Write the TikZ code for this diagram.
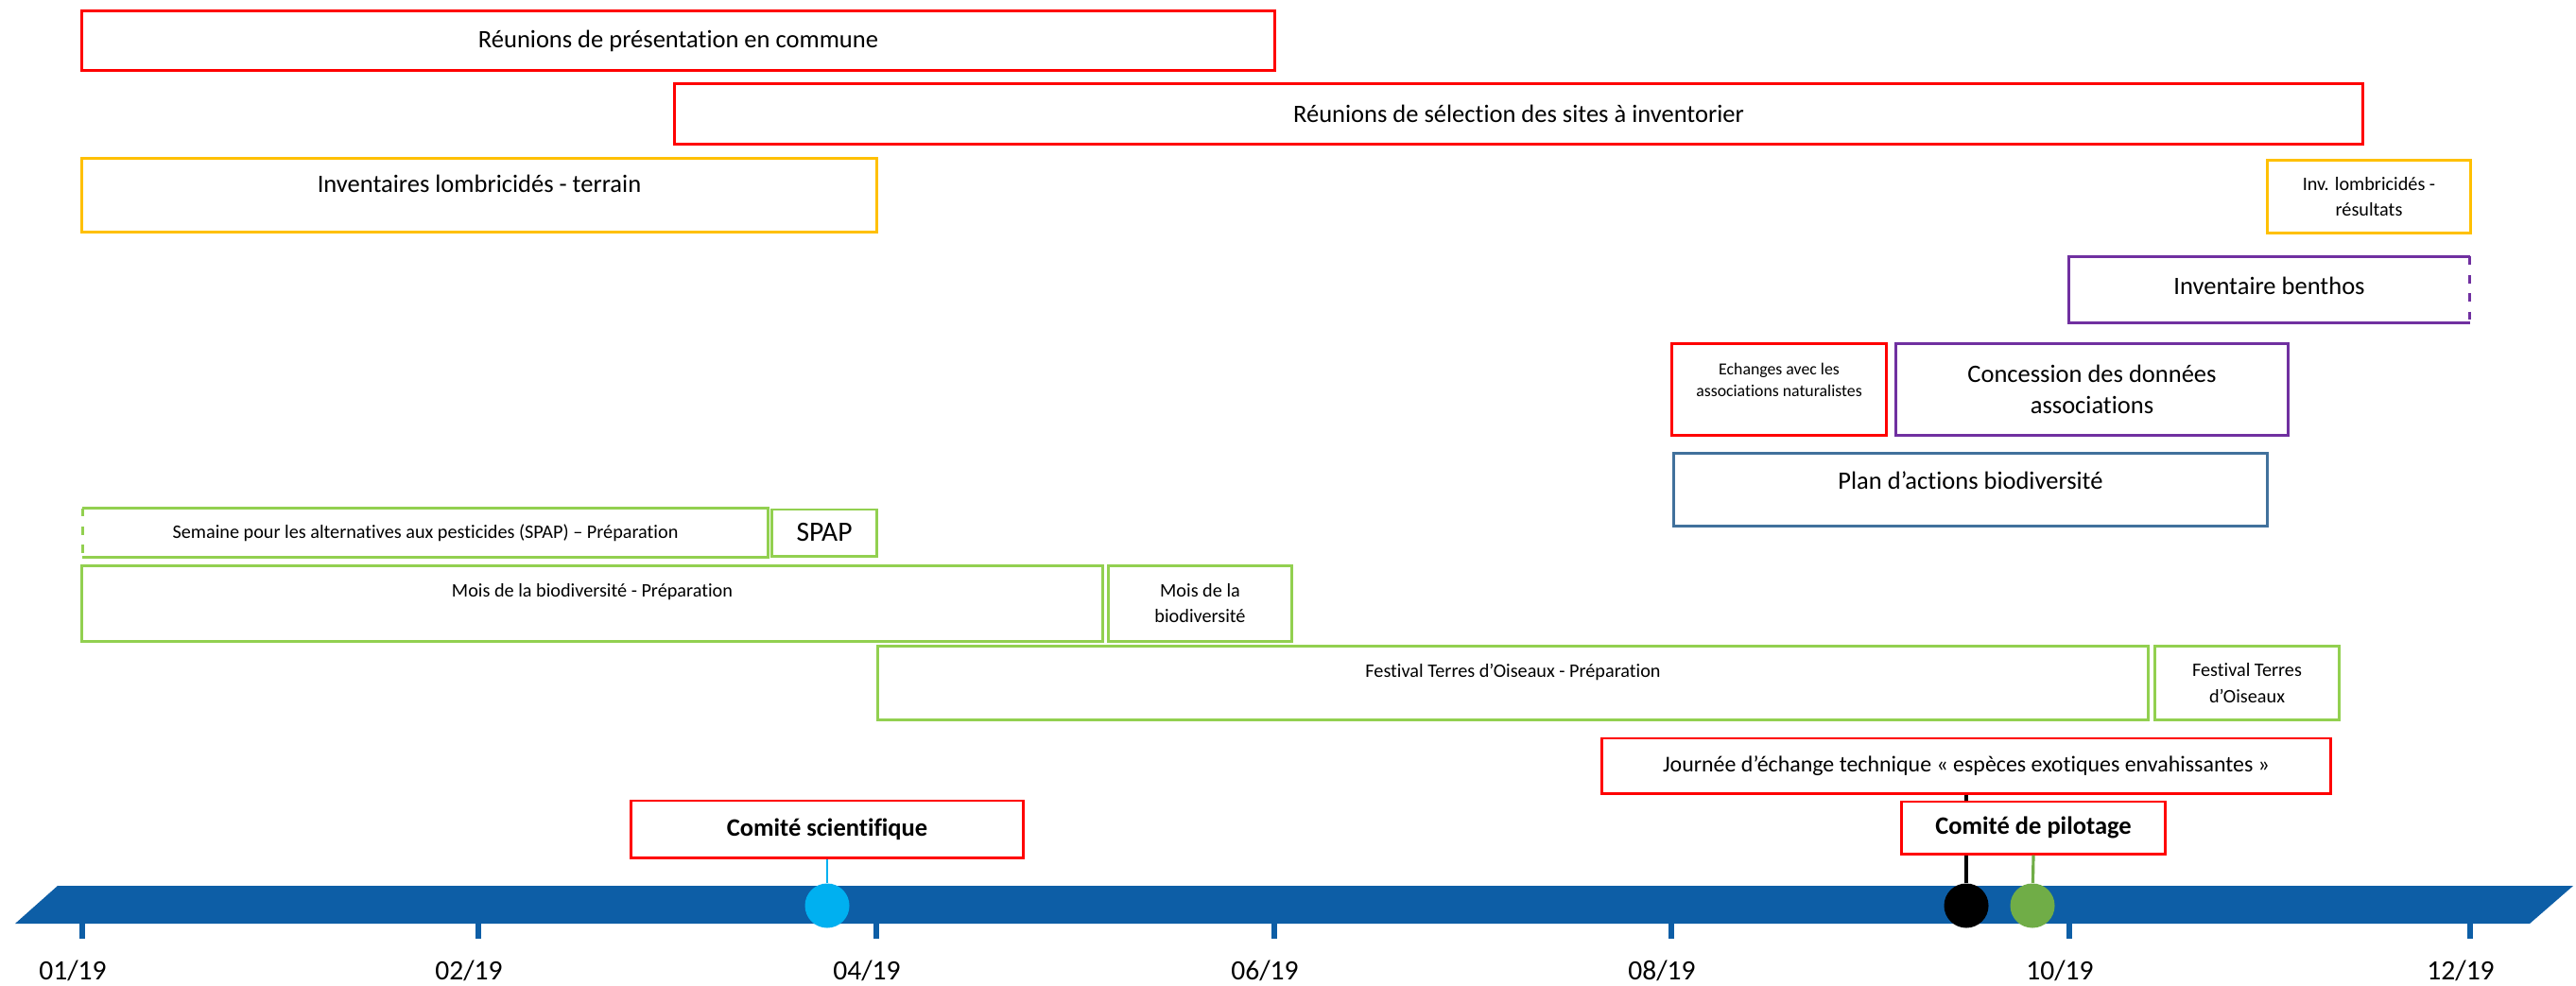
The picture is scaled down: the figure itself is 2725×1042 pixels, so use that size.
\documentclass[tikz,border=0pt]{standalone}
\usepackage{fontspec}
\setmainfont[Ligatures=NoCommon]{Carlito}
\usepackage{xcolor}
\usepackage{tikz}

\definecolor{rouge}{HTML}{FF0000}
\definecolor{orange}{HTML}{FFC000}
\definecolor{violet}{HTML}{7030A0}
\definecolor{acier}{HTML}{41719C}
\definecolor{vert}{HTML}{92D050}
\definecolor{bande}{RGB}{13,94,166}
\definecolor{cyan}{HTML}{00B0F0}
\definecolor{vertpoint}{HTML}{70AD47}

\begin{document}
\begin{tikzpicture}[x=0.01cm,y=-0.01cm,
	tache/.style={draw=#1,line width=0.85pt,fill=white,rectangle,inner sep=0pt,align=center},
	grand/.style={font=\fontsize{7.54}{9.4}\selectfont},
	moyen/.style={font=\fontsize{5.75}{7.7}\selectfont},
	petit/.style={font=\fontsize{5.06}{6.8}\selectfont},
	comite/.style={font=\bfseries\fontsize{7.54}{9}\selectfont},
	lift/.style={text depth=#1},
	point/.style={circle,fill=#1,minimum size=0.47cm,inner sep=0pt}]
			\useasboundingbox (0,0) rectangle (2725,1042);
			% frise
			\fill[bande] (16,977) -- (61,937) -- (2722,937) -- (2676,977) -- cycle;
			\foreach \x/\m in {87/01,506/02,927/04,1348/06,1768/08,2189/10,2613/12}{
				\draw[bande,line width=1.7pt] (\x,977) -- (\x,993);
				\node[font=\fontsize{8.4}{10}\selectfont] (mois\m) at (\x-10,1027) {\m/19};
			}
			% reunions et inventaires
			\node[tache=rouge,grand,minimum width=12.61cm,minimum height=0.62cm] (presentation) at (717.5,43) {Réunions de présentation en commune};
			\node[tache=rouge,grand,minimum width=17.85cm,minimum height=0.63cm] (selection) at (1606.5,120.5) {Réunions de sélection des sites à inventorier};
			\node[tache=orange,grand,lift=6.7pt,minimum width=8.4cm,minimum height=0.77cm] (invterrain) at (507,206.5) {Inventaires lombricidés - terrain};
			\node[tache=orange,moyen,minimum width=2.14cm,minimum height=0.76cm] (invresultats) at (2506,208) {Inv. lombricidés -\\résultats};
			\node[tache=none,grand,lift=2.5pt,minimum width=4.21cm,minimum height=0.67cm] (benthos) at (2400.5,306.5) {Inventaire benthos};
			\draw[violet,line width=0.85pt] (benthos.north east) -- (benthos.north west) -- (benthos.south west) -- (benthos.south east);
			\draw[violet,line width=0.85pt,dash pattern=on 2.5pt off 3pt] (benthos.north east) -- (benthos.south east);
			\node[tache=rouge,petit,lift=5.8pt,minimum width=2.26cm,minimum height=0.96cm] (echanges) at (1882,412) {Echanges avec les\\associations naturalistes};
			\node[tache=violet,grand,minimum width=4.14cm,minimum height=0.96cm] (concession) at (2213,412) {Concession des données\\associations};
			\node[tache=acier,grand,lift=5.7pt,minimum width=6.27cm,minimum height=0.76cm] (plan) at (2084.5,518) {Plan d’actions biodiversité};
			% evenements
			\node[tache=none,moyen,minimum width=7.22cm,minimum height=0.49cm] (spapprep) at (450,563.5) {Semaine pour les alternatives aux pesticides (SPAP) – Préparation};
			\draw[vert,line width=0.85pt] (spapprep.north west) -- (spapprep.north east) -- (spapprep.south east) -- (spapprep.south west);
			\draw[vert,line width=0.85pt,dash pattern=on 2.5pt off 3pt] (spapprep.north west) -- (spapprep.south west);
			\node[tache=vert,font=\fontsize{8.4}{10}\selectfont,minimum width=1.1cm,minimum height=0.49cm] (spap) at (872,563.5) {SPAP};
			\node[tache=vert,moyen,lift=7.7pt,minimum width=10.79cm,minimum height=0.79cm] (moisprep) at (626.5,638.5) {Mois de la biodiversité - Préparation};
			\node[tache=vert,moyen,minimum width=1.93cm,minimum height=0.79cm] (moisbio) at (1269.5,638.5) {Mois de la\\biodiversité};
			\node[tache=vert,moyen,lift=7.7pt,minimum width=13.43cm,minimum height=0.77cm] (festprep) at (1600.5,722.5) {Festival Terres d’Oiseaux - Préparation};
			\node[tache=vert,moyen,minimum width=1.94cm,minimum height=0.77cm] (festival) at (2377,722.5) {Festival Terres\\d’Oiseaux};
			\node[tache=rouge,font=\fontsize{6.8}{8}\selectfont,minimum width=7.7cm,minimum height=0.58cm] (journee) at (2080,810) {Journée d’échange technique «~espèces exotiques envahissantes~»};
			% comites
			\node[tache=rouge,comite,minimum width=4.14cm,minimum height=0.6cm] (comsci) at (875,877) {Comité scientifique};
			\node[tache=rouge,comite,minimum width=2.78cm,minimum height=0.55cm] (compil) at (2151,875.5) {Comité de pilotage};
			\node[point=cyan] (pcyan) at (875,958) {};
			\node[point=black] (pnoir) at (2080,958) {};
			\node[point=vertpoint] (pvert) at (2150,958) {};
			\draw[cyan,line width=0.6pt] (comsci) -- (pcyan);
			\draw[black,line width=0.9pt] (journee.south) -- (journee.south |- compil.north);
			\draw[black,line width=0.9pt] (pnoir |- compil.south) -- (pnoir);
			\draw[vertpoint,line width=0.9pt] (compil.south) -- (pvert);
		\end{tikzpicture}
\end{document}
